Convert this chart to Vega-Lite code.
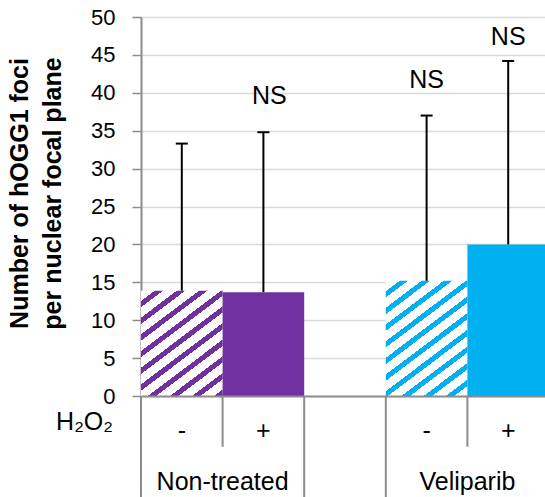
{
  "$schema": "https://vega.github.io/schema/vega-lite/v6.json",
  "width": 404,
  "height": 379,
  "autosize": {"type": "none"},
  "padding": {"left": 141, "top": 17, "right": 0, "bottom": 101},
  "background": "white",
  "config": {
    "font": "Liberation Sans",
    "view": {"stroke": null},
    "axisY": {
      "labelFont": "Liberation Sans", "labelFontSize": 22, "labelColor": "#000000", "labelPadding": 17, "labelOverlap": false,
      "ticks": true, "tickSize": 9, "tickWidth": 1.5, "tickColor": "#8c8c8c",
      "domain": true, "domainColor": "#8c8c8c", "domainWidth": 2,
      "grid": true, "gridColor": "#d9d9d9", "gridWidth": 1.5,
      "titleFont": "Liberation Sans", "titleFontSize": 25, "titleFontWeight": "bold", "titleColor": "#000000",
      "titleLineHeight": 33, "titleAngle": -90, "titleAlign": "center", "titleBaseline": "alphabetic",
      "titleX": -114, "titleY": 176, "zindex": 1
    }
  },
  "datasets": {
    "bars": [
      {"slot": "NT-", "group": "Non-treated", "h2o2": "-", "mean": 13.9, "upper": 33.3},
      {"slot": "NT+", "group": "Non-treated", "h2o2": "+", "mean": 13.7, "upper": 34.8},
      {"slot": "V-", "group": "Veliparib", "h2o2": "-", "mean": 15.2, "upper": 37.0},
      {"slot": "V+", "group": "Veliparib", "h2o2": "+", "mean": 20.0, "upper": 44.2}
    ],
    "groups": [
      {"group": "Non-treated", "slot": "NT+"},
      {"group": "Veliparib", "slot": "V+"}
    ],
    "dividers": [
      {"slot": "NT-", "kind": "long"},
      {"slot": "NT+", "kind": "short"},
      {"slot": "gap", "kind": "long"},
      {"slot": "V-", "kind": "long"},
      {"slot": "V+", "kind": "short"}
    ]
  },
  "encoding": {
    "x": {
      "field": "slot", "type": "nominal",
      "scale": {"domain": ["NT-", "NT+", "gap", "V-", "V+"], "range": [0, 408], "paddingInner": 0, "paddingOuter": 0},
      "axis": {"title": null, "labels": false, "ticks": false, "grid": false, "domain": true, "domainColor": "#8c8c8c", "domainWidth": 2, "zindex": 1}
    }
  },
  "layer": [
    {
      "data": {"name": "bars"},
      "transform": [{"filter": "datum.slot === 'NT-'"}],
      "mark": {
        "type": "bar",
        "fill": {
          "gradient": "linear", "x1": 0, "y1": 0, "x2": 0.6891, "y2": 1.1813,
          "stops": [
            {"offset": 0, "color": "#ffffff"}, {"offset": 0.062, "color": "#ffffff"}, {"offset": 0.062, "color": "#7030A0"}, {"offset": 0.1, "color": "#7030A0"},
            {"offset": 0.1, "color": "#ffffff"}, {"offset": 0.162, "color": "#ffffff"}, {"offset": 0.162, "color": "#7030A0"}, {"offset": 0.2, "color": "#7030A0"},
            {"offset": 0.2, "color": "#ffffff"}, {"offset": 0.262, "color": "#ffffff"}, {"offset": 0.262, "color": "#7030A0"}, {"offset": 0.3, "color": "#7030A0"},
            {"offset": 0.3, "color": "#ffffff"}, {"offset": 0.362, "color": "#ffffff"}, {"offset": 0.362, "color": "#7030A0"}, {"offset": 0.4, "color": "#7030A0"},
            {"offset": 0.4, "color": "#ffffff"}, {"offset": 0.462, "color": "#ffffff"}, {"offset": 0.462, "color": "#7030A0"}, {"offset": 0.5, "color": "#7030A0"},
            {"offset": 0.5, "color": "#ffffff"}, {"offset": 0.562, "color": "#ffffff"}, {"offset": 0.562, "color": "#7030A0"}, {"offset": 0.6, "color": "#7030A0"},
            {"offset": 0.6, "color": "#ffffff"}, {"offset": 0.662, "color": "#ffffff"}, {"offset": 0.662, "color": "#7030A0"}, {"offset": 0.7, "color": "#7030A0"},
            {"offset": 0.7, "color": "#ffffff"}, {"offset": 0.762, "color": "#ffffff"}, {"offset": 0.762, "color": "#7030A0"}, {"offset": 0.8, "color": "#7030A0"},
            {"offset": 0.8, "color": "#ffffff"}, {"offset": 0.862, "color": "#ffffff"}, {"offset": 0.862, "color": "#7030A0"}, {"offset": 0.9, "color": "#7030A0"},
            {"offset": 0.9, "color": "#ffffff"}, {"offset": 0.962, "color": "#ffffff"}, {"offset": 0.962, "color": "#7030A0"}, {"offset": 1, "color": "#7030A0"}
          ]
        }
      },
      "encoding": {
        "y": {"field": "mean", "type": "quantitative", "scale": {"domain": [0, 50], "nice": false, "zero": true},
          "axis": {"title": ["Number of hOGG1 foci", "per nuclear focal plane"], "values": [0, 5, 10, 15, 20, 25, 30, 35, 40, 45, 50]}}
      }
    },
    {
      "data": {"name": "bars"},
      "transform": [{"filter": "datum.slot === 'V-'"}],
      "mark": {
        "type": "bar",
        "fill": {
          "gradient": "linear", "x1": 0, "y1": 0, "x2": 0.637, "y2": 1.1936,
          "stops": [
            {"offset": 0, "color": "#ffffff"}, {"offset": 0.0585, "color": "#ffffff"}, {"offset": 0.0585, "color": "#00B0F0"}, {"offset": 0.0943, "color": "#00B0F0"},
            {"offset": 0.0943, "color": "#ffffff"}, {"offset": 0.1528, "color": "#ffffff"}, {"offset": 0.1528, "color": "#00B0F0"}, {"offset": 0.1887, "color": "#00B0F0"},
            {"offset": 0.1887, "color": "#ffffff"}, {"offset": 0.2472, "color": "#ffffff"}, {"offset": 0.2472, "color": "#00B0F0"}, {"offset": 0.283, "color": "#00B0F0"},
            {"offset": 0.283, "color": "#ffffff"}, {"offset": 0.3415, "color": "#ffffff"}, {"offset": 0.3415, "color": "#00B0F0"}, {"offset": 0.3774, "color": "#00B0F0"},
            {"offset": 0.3774, "color": "#ffffff"}, {"offset": 0.4359, "color": "#ffffff"}, {"offset": 0.4359, "color": "#00B0F0"}, {"offset": 0.4717, "color": "#00B0F0"},
            {"offset": 0.4717, "color": "#ffffff"}, {"offset": 0.5302, "color": "#ffffff"}, {"offset": 0.5302, "color": "#00B0F0"}, {"offset": 0.566, "color": "#00B0F0"},
            {"offset": 0.566, "color": "#ffffff"}, {"offset": 0.6245, "color": "#ffffff"}, {"offset": 0.6245, "color": "#00B0F0"}, {"offset": 0.6604, "color": "#00B0F0"},
            {"offset": 0.6604, "color": "#ffffff"}, {"offset": 0.7189, "color": "#ffffff"}, {"offset": 0.7189, "color": "#00B0F0"}, {"offset": 0.7547, "color": "#00B0F0"},
            {"offset": 0.7547, "color": "#ffffff"}, {"offset": 0.8132, "color": "#ffffff"}, {"offset": 0.8132, "color": "#00B0F0"}, {"offset": 0.8491, "color": "#00B0F0"},
            {"offset": 0.8491, "color": "#ffffff"}, {"offset": 0.9076, "color": "#ffffff"}, {"offset": 0.9076, "color": "#00B0F0"}, {"offset": 0.9434, "color": "#00B0F0"},
            {"offset": 0.9434, "color": "#ffffff"}, {"offset": 1, "color": "#ffffff"}
          ]
        }
      },
      "encoding": {
        "y": {"field": "mean", "type": "quantitative", "scale": {"domain": [0, 50], "nice": false, "zero": true},
          "axis": {"title": ["Number of hOGG1 foci", "per nuclear focal plane"], "values": [0, 5, 10, 15, 20, 25, 30, 35, 40, 45, 50]}}
      }
    },
    {
      "data": {"name": "bars"},
      "transform": [{"filter": "datum.slot === 'NT+' || datum.slot === 'V+'"}],
      "mark": {"type": "bar"},
      "encoding": {
        "y": {"field": "mean", "type": "quantitative", "scale": {"domain": [0, 50], "nice": false, "zero": true},
          "axis": {"title": ["Number of hOGG1 foci", "per nuclear focal plane"], "values": [0, 5, 10, 15, 20, 25, 30, 35, 40, 45, 50]}},
        "color": {"field": "group", "type": "nominal", "scale": {"domain": ["Non-treated", "Veliparib"], "range": ["#7030A0", "#00B0F0"]}, "legend": null}
      }
    },
    {
      "data": {"name": "bars"},
      "mark": {"type": "rule", "color": "#000000", "strokeWidth": 2},
      "encoding": {
        "y": {"field": "mean", "type": "quantitative", "scale": {"domain": [0, 50], "nice": false, "zero": true},
          "axis": {"title": ["Number of hOGG1 foci", "per nuclear focal plane"], "values": [0, 5, 10, 15, 20, 25, 30, 35, 40, 45, 50]}},
        "y2": {"field": "upper"}
      }
    },
    {
      "data": {"name": "bars"},
      "mark": {"type": "point", "shape": "stroke", "size": 144, "filled": false, "color": "#000000", "strokeWidth": 2, "opacity": 1},
      "encoding": {
        "y": {"field": "upper", "type": "quantitative", "scale": {"domain": [0, 50], "nice": false, "zero": true},
          "axis": {"title": ["Number of hOGG1 foci", "per nuclear focal plane"], "values": [0, 5, 10, 15, 20, 25, 30, 35, 40, 45, 50]}}
      }
    },
    {
      "data": {"name": "bars"},
      "transform": [{"filter": "datum.slot === 'NT+'"}],
      "mark": {"type": "text", "fontSize": 25, "font": "Liberation Sans", "color": "#000000", "align": "center", "baseline": "alphabetic", "dx": 6, "dy": -28},
      "encoding": {
        "y": {"field": "upper", "type": "quantitative", "scale": {"domain": [0, 50], "nice": false, "zero": true},
          "axis": {"title": ["Number of hOGG1 foci", "per nuclear focal plane"], "values": [0, 5, 10, 15, 20, 25, 30, 35, 40, 45, 50]}},
        "text": {"value": "NS"}
      }
    },
    {
      "data": {"name": "bars"},
      "transform": [{"filter": "datum.slot === 'V-'"}],
      "mark": {"type": "text", "fontSize": 25, "font": "Liberation Sans", "color": "#000000", "align": "center", "baseline": "alphabetic", "dy": -28},
      "encoding": {
        "y": {"field": "upper", "type": "quantitative", "scale": {"domain": [0, 50], "nice": false, "zero": true},
          "axis": {"title": ["Number of hOGG1 foci", "per nuclear focal plane"], "values": [0, 5, 10, 15, 20, 25, 30, 35, 40, 45, 50]}},
        "text": {"value": "NS"}
      }
    },
    {
      "data": {"name": "bars"},
      "transform": [{"filter": "datum.slot === 'V+'"}],
      "mark": {"type": "text", "fontSize": 25, "font": "Liberation Sans", "color": "#000000", "align": "center", "baseline": "alphabetic", "dy": -16},
      "encoding": {
        "y": {"field": "upper", "type": "quantitative", "scale": {"domain": [0, 50], "nice": false, "zero": true},
          "axis": {"title": ["Number of hOGG1 foci", "per nuclear focal plane"], "values": [0, 5, 10, 15, 20, 25, 30, 35, 40, 45, 50]}},
        "text": {"value": "NS"}
      }
    },
    {
      "data": {"name": "bars"},
      "mark": {"type": "text", "fontSize": 25, "font": "Liberation Sans", "color": "#000000", "align": "center", "baseline": "alphabetic", "dy": 43},
      "encoding": {
        "y": {"datum": 0, "type": "quantitative", "scale": {"domain": [0, 50], "nice": false, "zero": true},
          "axis": {"title": ["Number of hOGG1 foci", "per nuclear focal plane"], "values": [0, 5, 10, 15, 20, 25, 30, 35, 40, 45, 50]}},
        "text": {"field": "h2o2"}
      }
    },
    {
      "data": {"name": "bars"},
      "transform": [{"filter": "datum.slot === 'NT-'"}],
      "mark": {"type": "text", "fontSize": 25, "font": "Liberation Sans", "color": "#000000", "align": "right", "baseline": "alphabetic", "dx": -28, "dy": 34},
      "encoding": {
        "x": {"field": "slot", "type": "nominal", "bandPosition": 0},
        "y": {"datum": 0, "type": "quantitative", "scale": {"domain": [0, 50], "nice": false, "zero": true},
          "axis": {"title": ["Number of hOGG1 foci", "per nuclear focal plane"], "values": [0, 5, 10, 15, 20, 25, 30, 35, 40, 45, 50]}},
        "text": {"value": "H₂O₂"}
      }
    },
    {
      "data": {"name": "groups"},
      "mark": {"type": "text", "fontSize": 25, "font": "Liberation Sans", "color": "#000000", "align": "center", "baseline": "alphabetic", "dy": 94},
      "encoding": {
        "x": {"field": "slot", "type": "nominal", "bandPosition": 0},
        "y": {"datum": 0, "type": "quantitative", "scale": {"domain": [0, 50], "nice": false, "zero": true},
          "axis": {"title": ["Number of hOGG1 foci", "per nuclear focal plane"], "values": [0, 5, 10, 15, 20, 25, 30, 35, 40, 45, 50]}},
        "text": {"field": "group"}
      }
    },
    {
      "data": {"name": "dividers"},
      "transform": [{"filter": "datum.kind === 'long'"}],
      "mark": {"type": "rule", "color": "#8c8c8c", "strokeWidth": 2},
      "encoding": {
        "x": {"field": "slot", "type": "nominal", "bandPosition": 0},
        "y": {"datum": 0, "type": "quantitative", "scale": {"domain": [0, 50], "nice": false, "zero": true},
          "axis": {"title": ["Number of hOGG1 foci", "per nuclear focal plane"], "values": [0, 5, 10, 15, 20, 25, 30, 35, 40, 45, 50]}},
        "y2": {"datum": -13.5}
      }
    },
    {
      "data": {"name": "dividers"},
      "transform": [{"filter": "datum.kind === 'short'"}],
      "mark": {"type": "rule", "color": "#8c8c8c", "strokeWidth": 2},
      "encoding": {
        "x": {"field": "slot", "type": "nominal", "bandPosition": 0},
        "y": {"datum": 0, "type": "quantitative", "scale": {"domain": [0, 50], "nice": false, "zero": true},
          "axis": {"title": ["Number of hOGG1 foci", "per nuclear focal plane"], "values": [0, 5, 10, 15, 20, 25, 30, 35, 40, 45, 50]}},
        "y2": {"datum": -6.7}
      }
    }
  ]
}
